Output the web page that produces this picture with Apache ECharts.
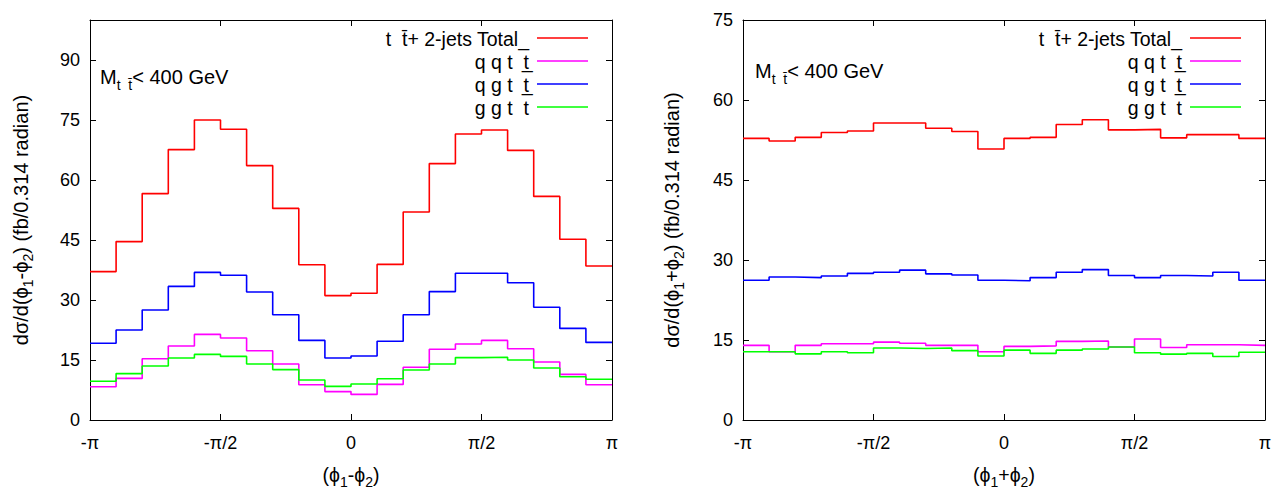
<!DOCTYPE html>
<html><head><meta charset="utf-8">
<script src="https://cdn.jsdelivr.net/npm/echarts@6/dist/echarts.min.js"></script>
<style>html,body{margin:0;padding:0;background:#fff}#c{width:1278px;height:494px}</style>
</head><body><div id="c"></div>
<script>
// bin edges in units of pi/10 (20 bins of 0.314 rad from -pi to pi)
const binEdges = [-10,-9,-8,-7,-6,-5,-4,-3,-2,-1,0,1,2,3,4,5,6,7,8,9,10];
const xTickLabels = {'-10':'-π','-5':'-π/2','0':'0','5':'π/2','10':'π'};
const seriesNames = ['t  t\u0304+ 2-jets Total_', 'q q t  t\u0332', 'q g t  t\u0332', 'g g t  t'];
const seriesColors = ['#ff0000', '#ff00ff', '#0000ff', '#00ff00'];

// left panel: d sigma / d(phi1 - phi2)
const leftTotal = [37.1,44.6,56.6,67.6,75.0,72.7,63.6,52.9,38.8,31.1,31.7,38.9,52.0,64.1,71.5,72.5,67.4,55.9,45.2,38.5];
const leftQQ    = [8.3,10.4,15.3,18.5,21.4,20.5,17.3,14.0,8.8,7.1,6.4,8.9,13.2,17.7,19.0,19.9,17.8,14.5,11.4,8.8];
const leftQG    = [19.2,22.5,27.5,33.4,36.9,36.2,32.0,26.3,19.9,15.5,16.0,19.7,26.3,32.1,36.7,36.7,34.3,28.2,22.9,19.4];
const leftGG    = [9.7,11.6,13.5,15.5,16.4,15.9,14.0,12.6,10.0,8.4,9.0,10.3,12.5,14.0,15.6,15.7,15.0,13.0,10.8,10.2];

// right panel: d sigma / d(phi1 + phi2)
const rightTotal = [52.8,52.3,53.0,53.9,54.2,55.7,55.7,54.7,54.1,50.8,52.8,53.0,55.4,56.3,54.4,54.5,52.9,53.5,53.5,52.8];
const rightQQ    = [14.0,12.8,14.0,14.3,14.3,14.6,14.4,14.0,14.0,12.8,13.8,13.9,14.75,14.8,13.7,15.2,13.6,14.1,14.1,14.0];
const rightQG    = [26.2,26.8,26.7,27.0,27.5,27.7,28.1,27.4,27.2,26.2,26.1,26.7,27.7,28.2,27.1,26.7,27.1,27.0,27.7,26.2];
const rightGG    = [12.8,12.8,12.4,12.8,12.6,13.5,13.4,13.5,13.0,12.0,13.1,12.5,13.1,13.3,13.7,12.6,12.35,12.5,11.9,12.7];

const leftYTicks = {min:0, max:100, interval:15};
const rightYTicks = {min:0, max:75, interval:15};

const FONT = 'Liberation Sans';
const FS = 18;      // tick labels
const FT = 20;      // axis titles / annotation
const FL = 19.5;    // legend

function stepData(vals){
  return binEdges.map((e,i)=>[e, vals[Math.min(i, vals.length-1)]]);
}

function titleRich(size){
  return {a:{fontFamily:FONT,fontSize:size,color:'#000',lineHeight:28},
          s:{fontFamily:FONT,fontSize:14,color:'#000',lineHeight:28,verticalAlign:'bottom'}};
}

function xAxisPair(grid, name){
  const base = {
    type:'value', gridIndex:grid, min:-10, max:10, interval:5,
    axisLine:{show:true, onZero:false, lineStyle:{color:'#000', width:1}},
    axisTick:{show:true, inside:true, length:6, lineStyle:{color:'#000'}},
    splitLine:{show:false}
  };
  return [
    Object.assign({}, base, {
      position:'bottom',
      axisLabel:{show:true, margin:14, color:'#000', fontFamily:FONT, fontSize:FS,
        formatter:v=>xTickLabels[String(Math.round(v))] ?? ''},
      name:name, nameLocation:'middle', nameGap:41,
      nameTextStyle:{color:'#000', fontFamily:FONT, fontSize:19.5, rich:titleRich(19.5)}
    }),
    Object.assign({}, base, {position:'top', axisLabel:{show:false}})
  ];
}

function yAxisPair(grid, t, name, gap){
  const base = {
    type:'value', gridIndex:grid, min:t.min, max:t.max, interval:t.interval,
    axisLine:{show:true, onZero:false, lineStyle:{color:'#000', width:1}},
    axisTick:{show:true, inside:true, length:6, lineStyle:{color:'#000'}},
    splitLine:{show:false}
  };
  return [
    Object.assign({}, base, {
      position:'left',
      axisLabel:{show:true, margin:10, color:'#000', fontFamily:FONT, fontSize:FS,
        showMaxLabel: (t.max % t.interval === 0)},
      name:name, nameLocation:'middle', nameGap:gap, nameRotate:90,
      nameTextStyle:{color:'#000', fontFamily:FONT, fontSize:FT, rich:titleRich(FT)}
    }),
    Object.assign({}, base, {position:'right', axisLabel:{show:false}})
  ];
}

const xAxes = [].concat(
  xAxisPair(0, '{a|(ϕ}{s|1}{a|-ϕ}{s|2}{a|)}'),
  xAxisPair(1, '{a|(ϕ}{s|1}{a|+ϕ}{s|2}{a|)}')
);
const yAxes = [].concat(
  yAxisPair(0, leftYTicks, '{a|dσ/d(ϕ}{s|1}{a|-ϕ}{s|2}{a|) (fb/0.314 radian)}', 55),
  yAxisPair(1, rightYTicks, '{a|dσ/d(ϕ}{s|1}{a|+ϕ}{s|2}{a|) (fb/0.314 radian)}', 57)
);

const panels = [
  {x:0, y:0, data:[leftTotal, leftQQ, leftQG, leftGG]},
  {x:2, y:2, data:[rightTotal, rightQQ, rightQG, rightGG]}
];
const series = [];
panels.forEach(p=>{
  p.data.forEach((vals,k)=>{
    series.push({
      type:'line', name:seriesNames[k], xAxisIndex:p.x, yAxisIndex:p.y,
      step:'end', showSymbol:false, symbol:'none', data:stepData(vals),
      lineStyle:{color:seriesColors[k], width:1.6}, itemStyle:{color:seriesColors[k]},
      silent:true, z:2
    });
  });
});

// legend drawn as graphic (text left of line sample, right aligned)
const graphics = [];
const legendRowsY = [38, 61, 84, 107];
[0, 653].forEach(dx=>{
  seriesNames.forEach((nm,k)=>{
    graphics.push({type:'text', x:529+dx, y:legendRowsY[k]+1,
      style:{text:nm, fill:'#000', font:FL+'px "'+FONT+'"', textAlign:'right', textVerticalAlign:'middle'}});
    graphics.push({type:'line', shape:{x1:537+dx, y1:legendRowsY[k], x2:588+dx, y2:legendRowsY[k]},
      style:{stroke:seriesColors[k], lineWidth:1.6}});
  });
});
const mLabelRich = {
  m:{fontFamily:FONT, fontSize:FT, fill:'#000', lineHeight:30},
  s:{fontFamily:FONT, fontSize:14, fill:'#000', lineHeight:30, verticalAlign:'bottom'}
};
[[100,77],[755,71]].forEach(([x,y])=>{
  graphics.push({type:'text', x:x, y:y,
    style:{text:'{m|M}{s|t  t\u0304}{m|< 400 GeV}', rich:mLabelRich, textAlign:'left', textVerticalAlign:'middle'}});
});

const chart = echarts.init(document.getElementById('c'), null, {renderer:'svg'});
chart.setOption({
  backgroundColor:'#fff',
  animation:false,
  grid:[
    {left:90, right:1278-612, top:20, bottom:494-423},
    {left:743, right:1278-1265, top:20, bottom:494-423}
  ],
  xAxis:xAxes,
  yAxis:yAxes,
  series:series,
  graphic:graphics
});
</script>
</body></html>
